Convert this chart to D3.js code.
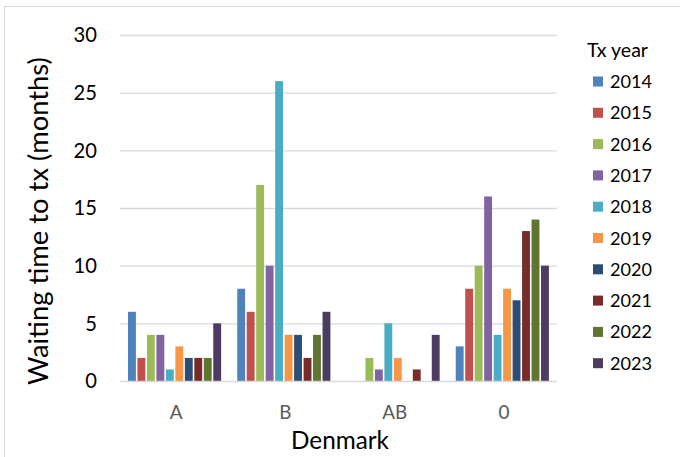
<!DOCTYPE html>
<html><head><meta charset="utf-8">
<script src="https://cdn.jsdelivr.net/npm/d3@7"></script>
<style>
html,body{margin:0;padding:0;background:#fff;}
text{font-family:Lato, "Open Sans", sans-serif;}
</style></head>
<body><svg id="c" width="680" height="457"></svg>
<script>
const categories = ["A","B","AB","0"];
const years = ["2014","2015","2016","2017","2018","2019","2020","2021","2022","2023"];
const v2014 = [6, 8, 0, 3];
const v2015 = [2, 6, 0, 8];
const v2016 = [4, 17, 2, 10];
const v2017 = [4, 10, 1, 16];
const v2018 = [1, 26, 5, 4];
const v2019 = [3, 4, 2, 8];
const v2020 = [2, 4, 0, 7];
const v2021 = [2, 2, 1, 13];
const v2022 = [2, 4, 0, 14];
const v2023 = [5, 6, 4, 10];
const yTicks = [0,5,10,15,20,25,30];
const colors = ["#4F81BD","#C0504D","#9BBB59","#8064A2","#4BACC6","#F79646","#2C4D75","#772C2A","#5F7530","#4D3B62"];

const series = [v2014,v2015,v2016,v2017,v2018,v2019,v2020,v2021,v2022,v2023];
const svg = d3.select("#c");

// fit a font size so that a sample text reaches a target width
function fitSize(sample, target){
  const t = svg.append("text").attr("font-size",20).text(sample);
  const w = t.node().getComputedTextLength();
  t.remove();
  return 20*target/w;
}
const fsTick = fitSize("30", 23.4);
const fsLeg = fitSize("2014", 42);
const fsLegTitle = fitSize("Tx year", 61);
const fsCat = fitSize("AB", 25);
const fsX = fitSize("Denmark", 98);
const fsY = fitSize("Waiting time to tx (months)", 328);

// frame
svg.append("rect").attr("x",4.5).attr("y",6.5).attr("width",700).attr("height",500)
  .attr("fill","none").attr("stroke","#d9d9d9").attr("stroke-width",1);

const L=120, R=557, T=35, B=381;
const y = d3.scaleLinear().domain([0,30]).range([B,T]);
const x0 = d3.scaleBand().domain(categories).range([L,R]);
const x1 = d3.scaleBand().domain(years).range([7.5, x0.bandwidth()-7]);

// gridlines
svg.append("g").selectAll("line").data(yTicks.filter(d=>d>0)).join("line")
  .attr("x1",L).attr("x2",R).attr("y1",d=>y(d)+0.5).attr("y2",d=>y(d)+0.5)
  .attr("stroke","#d9d9d9").attr("stroke-width",1.3);

// y tick labels
svg.append("g").selectAll("text").data(yTicks).join("text")
  .attr("x",97).attr("y",d=>y(d)).attr("dy","0.36em").attr("text-anchor","end")
  .attr("font-size",fsTick).attr("fill","#000").text(d=>d);

// bars
const g = svg.append("g");
categories.forEach((c,ci)=>{
  years.forEach((yr,si)=>{
    const v = series[si][ci];
    if(v<=0) return;
    g.append("rect")
      .attr("x", x0(c)+x1(yr)+0.5)
      .attr("y", y(v))
      .attr("width", x1.bandwidth()-1.6)
      .attr("height", y(0)-y(v))
      .attr("fill", colors[si]);
  });
});

// x axis line
svg.append("line").attr("x1",L).attr("x2",R).attr("y1",B+0.5).attr("y2",B+0.5)
  .attr("stroke","#d9d9d9").attr("stroke-width",1.3);

// category labels
svg.append("g").selectAll("text").data(categories).join("text")
  .attr("x",d=>x0(d)+x0.bandwidth()/2+1.5).attr("y",412).attr("dy","0.36em").attr("text-anchor","middle")
  .attr("font-size",fsCat).attr("fill","#595959").text(d=>d);

// axis titles
svg.append("text").attr("x",340).attr("y",440).attr("dy","0.36em").attr("text-anchor","middle")
  .attr("font-size",fsX).attr("fill","#000").text("Denmark");
svg.append("text").attr("transform","translate(38,221) rotate(-90)").attr("dy","0.36em")
  .attr("text-anchor","middle").attr("font-size",fsY).attr("fill","#000")
  .text("Waiting time to tx (months)");

// legend
svg.append("text").attr("x",587).attr("y",50).attr("dy","0.36em").attr("font-size",fsLegTitle).attr("fill","#000").text("Tx year");
const lg = svg.append("g").selectAll("g").data(years).join("g")
  .attr("transform",(d,i)=>`translate(0,${81.5 + i*31.3})`);
lg.append("rect").attr("x",593).attr("y",-5).attr("width",10).attr("height",10)
  .attr("fill",(d,i)=>colors[i]);
lg.append("text").attr("x",610).attr("y",0).attr("dy","0.36em").attr("font-size",fsLeg)
  .attr("fill","#000").text(d=>d);
</script></body></html>
